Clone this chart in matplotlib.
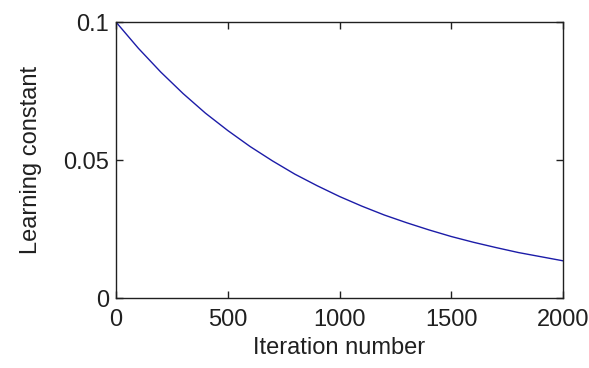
import numpy as np
import matplotlib.pyplot as plt

iterations = [0, 100, 200, 300, 400, 500, 600, 700, 800, 900, 1000,
              1100, 1200, 1300, 1400, 1500, 1600, 1700, 1800, 1900, 2000]
rate = [0.1000, 0.0905, 0.0819, 0.0741, 0.0670, 0.0607, 0.0549, 0.0497,
        0.0449, 0.0407, 0.0368, 0.0333, 0.0301, 0.0273, 0.0247, 0.0223,
        0.0202, 0.0183, 0.0165, 0.0150, 0.0135]

xticks = [0, 500, 1000, 1500, 2000]
yticks = [0, 0.05, 0.1]
ytick_labels = ["0", "0.05", "0.1"]

plt.rcParams['font.family'] = ['Liberation Sans', 'DejaVu Sans']

fig = plt.figure(figsize=(5.89, 3.68), dpi=100)
ax = fig.add_axes([0.197, 0.190, 0.759, 0.750])
ax.plot(iterations, rate, color='#1c1ca8', linewidth=1.0)
ax.set_xlim(0, 2000)
ax.set_ylim(0, 0.1)
ax.set_xticks(xticks)
ax.set_xticklabels([str(x) for x in xticks])
ax.set_yticks(yticks)
ax.set_yticklabels(ytick_labels)
ax.tick_params(direction='in', top=True, right=True, length=5, width=1,
               labelsize=17, colors='#202020')
ax.tick_params(axis='x', pad=8)
ax.tick_params(axis='y', pad=5)
for s in ax.spines.values():
    s.set_linewidth(1.0)
    s.set_color('#202020')
ax.set_xlabel("Iteration number", fontsize=17, labelpad=4, color='#202020')
ax.set_ylabel("Learning constant", fontsize=17, labelpad=15, color='#202020')
fig.savefig("out.png", dpi=100)
